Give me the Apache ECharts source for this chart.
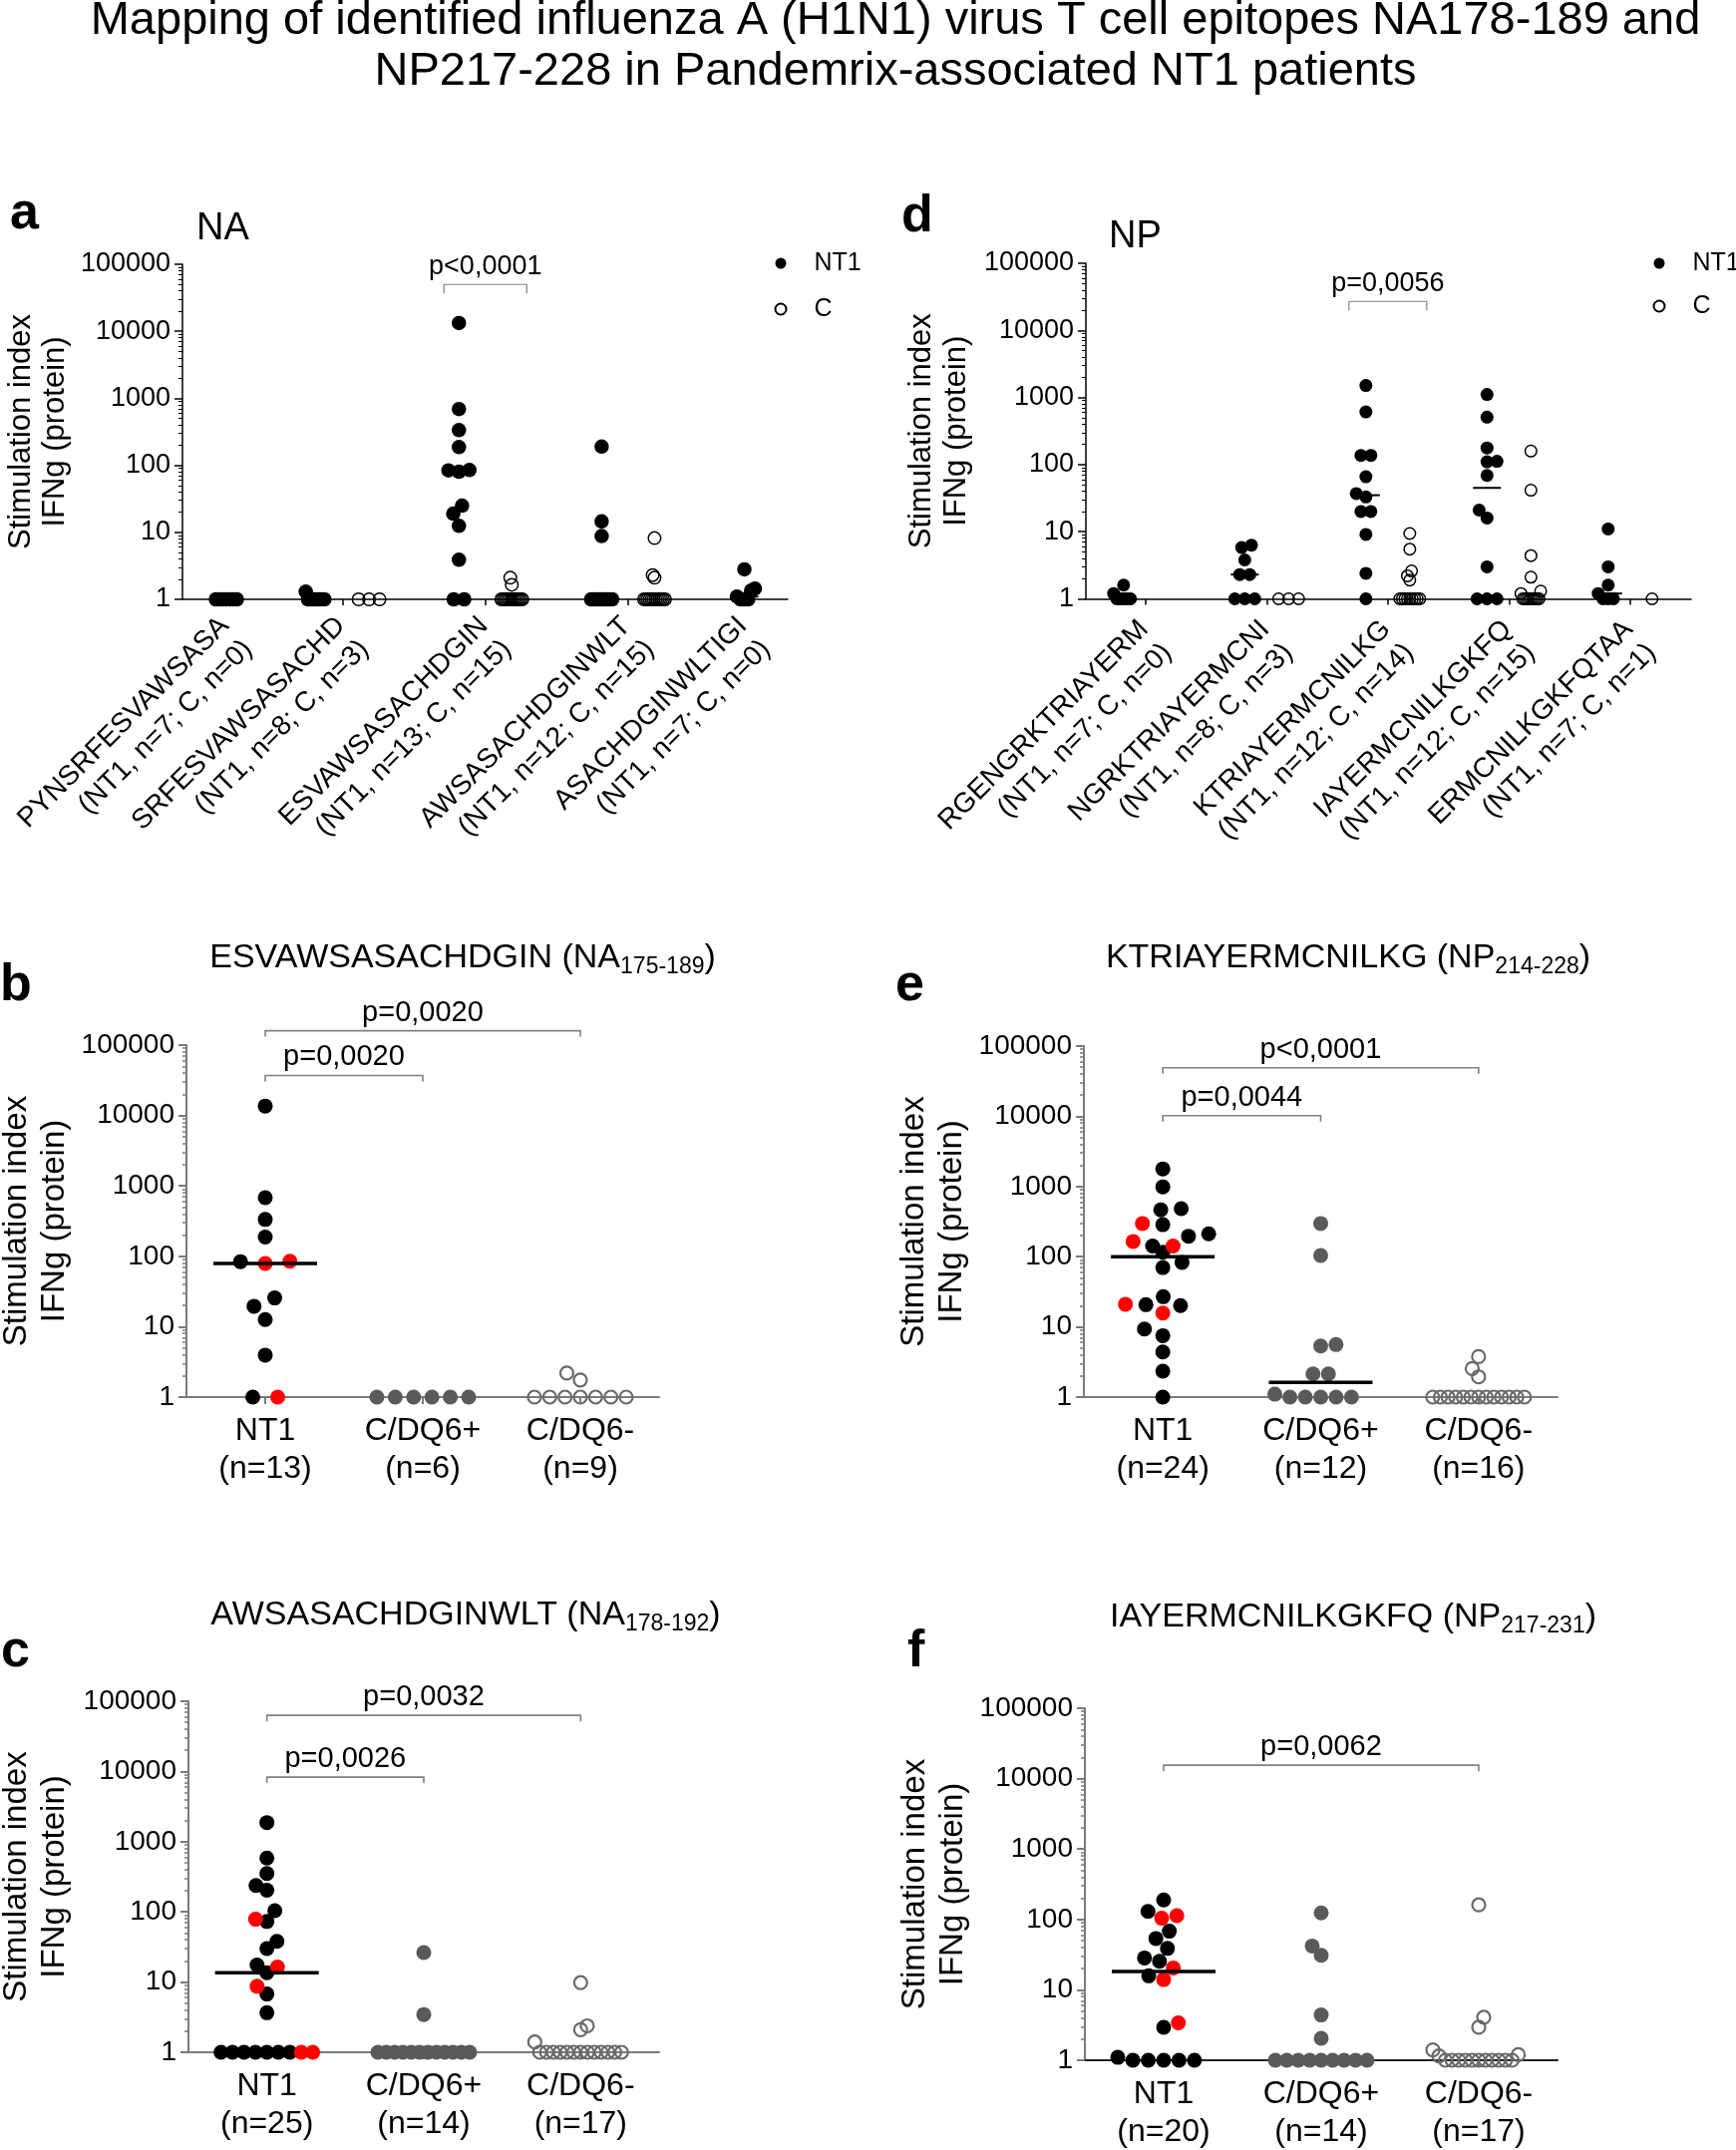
<!DOCTYPE html>
<html>
<head>
<meta charset="utf-8">
<script src="https://cdn.jsdelivr.net/npm/echarts@6/dist/echarts.min.js"></script>
<style>
html,body{margin:0;padding:0;background:#fff;}
#chart{width:1741px;height:2156px;}
</style>
</head>
<body>
<div id="chart"></div>
<script>
// ======================= DATA =======================
const figureTitle = [
  'Mapping of identified influenza A (H1N1) virus T cell epitopes NA178-189 and',
  'NP217-228 in Pandemrix-associated NT1 patients'
];
const yTitle = 'Stimulation index\nIFNg (protein)';
const yTickValues = [1, 10, 100, 1000, 10000, 100000];
const yMinorValues = [2,3,4,5,6,7,8,9,20,30,40,50,60,70,80,90,200,300,400,500,600,700,800,900,
  2000,3000,4000,5000,6000,7000,8000,9000,20000,30000,40000,50000,60000,70000,80000,90000];
const legendNames = ['NT1', 'C'];

// Panel a: NA peptides
const naPeptides = ['PYNSRFESVAWSASA', 'SRFESVAWSASACHD', 'ESVAWSASACHDGIN', 'AWSASACHDGINWLT', 'ASACHDGINWLTIGI'];
const naNT1 = [
  [1, 1, 1, 1, 1, 1, 1],
  [1.3, 1, 1, 1, 1, 1, 1, 1],
  [13300, 690, 335, 187, 84, 80, 85, 25, 19, 12.5, 3.9, 1, 1],
  [190, 14.6, 8.8, 1, 1, 1, 1, 1, 1, 1, 1, 1],
  [2.8, 1.45, 1.35, 1.1, 1, 1, 1]
];
const naC = [
  [],
  [1, 1, 1],
  [2.1, 1.65, 1, 1, 1, 1, 1, 1, 1, 1, 1, 1, 1, 1, 1],
  [8.2, 2.3, 2.1, 1, 1, 1, 1, 1, 1, 1, 1, 1, 1, 1, 1],
  []
];
const naBracket = [2, 50000, 'p<0,0001'];

// Panel d: NP peptides
const npPeptides = ['RGENGRKTRIAYERM', 'NGRKTRIAYERMCNI', 'KTRIAYERMCNILKG', 'IAYERMCNILKGKFQ', 'ERMCNILKGKFQTAA'];
const npNT1 = [
  [1.6, 1.2, 1, 1, 1, 1, 1],
  [6.3, 5.8, 3.8, 2.3, 2.3, 1, 1, 1],
  [1510, 610, 137, 137, 66, 37, 33, 20, 20, 9.1, 2.4, 1],
  [1110, 510, 177, 112, 110, 69, 21, 16, 3, 1, 1, 1],
  [11, 3, 1.6, 1.2, 1, 1, 1]
];
const npC = [
  [],
  [1, 1, 1],
  [9.4, 5.5, 2.6, 2.2, 1.9, 1, 1, 1, 1, 1, 1, 1, 1, 1],
  [159, 41.5, 4.4, 2.1, 1.3, 1.2, 1, 1, 1, 1, 1, 1, 1, 1, 1],
  [1]
];
const npBracket = [2, 27000, 'p=0,0056'];

// Sub-panels b, c, e, f
const subGroups = ['NT1', 'C/DQ6+', 'C/DQ6-'];

const bTitle = ['ESVAWSASACHDGIN', 'NA', '175-189'];
const bNT1 = [13600, 680, 334, 188, 84, 25.6, 19.5, 12.6, 3.95, 1];
const bNT1Red = [79, 85, 1];
const bDQ6pos = [1, 1, 1, 1, 1, 1];
const bDQ6neg = [2.2, 1.75, 1, 1, 1, 1, 1, 1, 1];
const bBrackets = [[0, 2, 160000, 'p=0,0020'], [0, 1, 37000, 'p=0,0020']];

const eTitle = ['KTRIAYERMCNILKG', 'NP', '214-228'];
const eNT1 = [1780, 988, 484, 466, 286, 212, 196, 142, 116, 83, 70, 26.9, 20.7, 20.1, 9.3, 7.5, 4.4, 2.34, 1];
const eNT1Red = [297, 165, 142, 21, 15.7];
const eDQ6pos = [297, 104, 5.6, 5.35, 2.14, 2.14, 1.1, 1, 1, 1, 1, 1];
const eDQ6neg = [3.77, 2.55, 1.94, 1, 1, 1, 1, 1, 1, 1, 1, 1, 1, 1, 1, 1];
const eBrackets = [[0, 2, 49000, 'p<0,0001'], [0, 1, 10200, 'p=0,0044']];

const cTitle = ['AWSASACHDGINWLT', 'NA', '178-192'];
const cNT1 = [1870, 584, 352, 237, 203, 104, 73, 38, 30, 17.5, 13.6, 6.75, 3.66, 1, 1, 1, 1, 1, 1, 1];
const cNT1Red = [78.5, 16.4, 8.7, 1, 1];
const cDQ6pos = [26.3, 3.45, 1, 1, 1, 1, 1, 1, 1, 1, 1, 1, 1, 1];
const cDQ6neg = [9.8, 2.38, 2.1, 1.4, 1, 1, 1, 1, 1, 1, 1, 1, 1, 1, 1, 1, 1];
const cBrackets = [[0, 2, 63000, 'p=0,0032'], [0, 1, 8300, 'p=0,0026']];

const fTitle = ['IAYERMCNILKGKFQ', 'NP', '217-231'];
const fNT1 = [189, 130, 68, 53.6, 38.8, 28.4, 25.5, 15.8, 2.94, 1.1, 1, 1, 1, 1, 1];
const fNT1Red = [113, 104, 20.5, 14, 3.4];
const fDQ6pos = [124, 42, 31, 4.4, 2.05, 1, 1, 1, 1, 1, 1, 1, 1, 1];
const fDQ6neg = [161, 4.07, 2.94, 1.4, 1.2, 1.15, 1, 1, 1, 1, 1, 1, 1, 1, 1, 1, 1];
const fBrackets = [[0, 2, 15500, 'p=0,0062']];

// ======================= LAYOUT / STYLE =======================
const FONT = "'Liberation Sans', Arial, Helvetica, sans-serif";
const BLACK = '#000000', RED = '#ff0000', GRAY_FILL = '#5a5a5a', GRAY_OPEN = '#6a6a6a';
const AXIS_GRAY = '#7a7a7a', BRACKET_GRAY = '#808080';

const L = {
  a: { grid: { left: 183, top: 265, width: 607, height: 336 }, xMin: -0.83, xMax: 10.62, groupGap: 0.7, keepEmpty: false,
       dot: 14.5, open: 12.5, openW: 1.5, stepMax: 11, maxHalf: 10.5, axisColor: BLACK, axisW: 1.5,
       labelShift: 10, labelMargin: 34, yLabel: 27, nameSize: 31, nameLH: 34, nameGap: 111, medHW: 14, medW: 2,
       brExt: 15, pSize: 27, legend: { left: 771.5, top: 244, gap: 16, pad: 23 } },
  d: { grid: { left: 1089, top: 264, width: 607, height: 336.5 }, xMin: -0.86, xMax: 12.93, groupGap: 0.76, keepEmpty: true,
       dot: 13, open: 11.5, openW: 1.5, stepMax: 10, maxHalf: 10, axisColor: BLACK, axisW: 1.5,
       labelShift: 10, labelMargin: 38, yLabel: 27, nameSize: 31, nameLH: 35, nameGap: 112, medHW: 14, medW: 2,
       brExt: 17, pSize: 27, legend: { left: 1652.5, top: 244, gap: 13, pad: 23 } },
  b: { grid: { left: 187, top: 1048, width: 474, height: 353 }, xAxisColor: AXIS_GRAY, nameGap: 113 },
  e: { grid: { left: 1087, top: 1049, width: 475, height: 352 }, xAxisColor: AXIS_GRAY, nameGap: 113 },
  c: { grid: { left: 189, top: 1706, width: 472, height: 352 }, xAxisColor: AXIS_GRAY, nameGap: 115 },
  f: { grid: { left: 1088, top: 1713, width: 474, height: 353 }, xAxisColor: '#222222', nameGap: 113 }
};
const SUB = { dot: 15, open: 13, openW: 2.2, stepMax: 25, maxHalf: 46, axisColor: AXIS_GRAY, axisW: 2,
  yLabel: 28, nameSize: 33, nameLH: 38, xLabel: 32, xLabelLH: 38, xLabelMargin: 15,
  medHW: 52, medW: 3.5, pSize: 29 };

// ======================= HELPERS =======================
const grids = [], xAxes = [], yAxes = [], series = [], legends = [], graphics = [];

function median(arr) {
  const s = arr.slice().sort((p, q) => p - q);
  const n = s.length;
  if (!n) return null;
  return n % 2 ? s[(n - 1) / 2] : (s[n / 2 - 1] + s[n / 2]) / 2;
}

// Beeswarm layout (GraphPad-like): offsets in px, computed only from values.
function swarm(values, decadePx, dotPx, stepMaxPx, maxHalfPx) {
  const n = values.length;
  if (!n) return [];
  const py = values.map(v => Math.log10(v) * decadePx);
  const order = values.map((_, i) => i).sort((i, j) => (values[i] - values[j]) || (i - j));
  const u = new Array(n).fill(0);
  const placed = [];
  let preferLeft = true;
  let k = 0;
  while (k < n) {
    let m = k;
    while (m + 1 < n && values[order[m + 1]] === values[order[k]]) m++;
    const cnt = m - k + 1;
    if (cnt > 1) {
      for (let t = 0; t < cnt; t++) { const i = order[k + t]; u[i] = t - (cnt - 1) / 2; placed.push(i); }
    } else {
      const i = order[k];
      const ivs = [];
      placed.forEach(j => {
        const dy = Math.abs(py[i] - py[j]);
        if (dy < dotPx) { const h = Math.sqrt(1 - (dy / dotPx) * (dy / dotPx)); ivs.push([u[j] - h, u[j] + h]); }
      });
      const isFree = c => ivs.every(([a, b]) => c <= a + 1e-6 || c >= b - 1e-6);
      const cands = [0];
      ivs.forEach(([a, b]) => cands.push(a, b));
      let best = null;
      cands.forEach(c => {
        if (!isFree(c)) return;
        if (best === null) { best = c; return; }
        const dc = Math.abs(c), db = Math.abs(best);
        if (dc < db - 1e-6) best = c;
        else if (Math.abs(dc - db) <= 1e-6 && (preferLeft ? c < best : c > best)) best = c;
      });
      if (Math.abs(best) > 1e-6) preferLeft = !preferLeft;
      u[i] = best; placed.push(i);
    }
    k = m + 1;
  }
  const maxAbs = Math.max.apply(null, u.map(Math.abs));
  const step = maxAbs > 1e-6 ? Math.min(stepMaxPx, maxHalfPx / maxAbs) : stepMaxPx;
  return u.map(x => x * step);
}

function nearestIndex(arr, v) {
  let bi = 0, bd = Infinity;
  arr.forEach((a, i) => { const d = Math.abs(a - v); if (d < bd) { bd = d; bi = i; } });
  return bi;
}

function addYAxes(gi, cfg, st) {
  yAxes.push({
    type: 'log', logBase: 10, gridIndex: gi, position: 'left', min: yTickValues[0], max: yTickValues[yTickValues.length - 1],
    axisLine: { show: true, onZero: false, lineStyle: { color: st.axisColor, width: st.axisW } },
    axisTick: { show: true, customValues: yTickValues, length: 8, lineStyle: { color: st.axisColor, width: st.axisW } },
    axisLabel: { show: true, customValues: yTickValues, formatter: v => String(Math.round(v)), fontSize: st.yLabel,
      fontFamily: FONT, color: BLACK, margin: 12 },
    splitLine: { show: false }, minorTick: { show: false },
    name: yTitle, nameLocation: 'middle', nameRotate: 90, nameGap: cfg.nameGap, nameMoveOverlap: false,
    nameTextStyle: { fontSize: st.nameSize, lineHeight: st.nameLH, fontFamily: FONT, color: BLACK }
  });
  yAxes.push({
    type: 'log', logBase: 10, gridIndex: gi, position: 'left', offset: 0, min: yTickValues[0], max: yTickValues[yTickValues.length - 1],
    axisLine: { show: false, onZero: false },
    axisTick: { show: true, customValues: yMinorValues, length: 4, lineStyle: { color: st.axisColor, width: Math.max(1, st.axisW - 0.5) } },
    axisLabel: { show: false }, splitLine: { show: false }
  });
  return yAxes.length - 2;
}

function scatter(name, xi, yi, data, size, color, border, borderW, z) {
  series.push({
    type: 'scatter', name, xAxisIndex: xi, yAxisIndex: yi, data, symbol: 'circle', symbolSize: size,
    clip: false, silent: true, z: z || 2, animation: false,
    itemStyle: { color, borderColor: border || color, borderWidth: borderW || 0, opacity: 1 },
    emphasis: { disabled: true }
  });
}

function medianSeries(xi, yi, data, hw, lw, z) {
  series.push({
    type: 'custom', xAxisIndex: xi, yAxisIndex: yi, data, clip: false, silent: true, z: z,
    renderItem: (params, api) => {
      const c = api.coord([api.value(0), api.value(1)]);
      return { type: 'line', shape: { x1: c[0] - hw, y1: c[1], x2: c[0] + hw, y2: c[1] },
        style: { stroke: BLACK, lineWidth: lw } };
    }
  });
}

function bracketSeries(xi, yi, items, ext, pSize, lw, tip) {
  const texts = items.map(b => b[3]);
  series.push({
    type: 'custom', xAxisIndex: xi, yAxisIndex: yi, clip: false, silent: true, z: 4,
    data: items.map(b => [b[0], b[1], b[2]]),
    renderItem: (params, api) => {
      const p1 = api.coord([api.value(0), api.value(2)]);
      const p2 = api.coord([api.value(1), api.value(2)]);
      const x1 = p1[0] - ext, x2 = p2[0] + ext, y = p1[1];
      return { type: 'group', children: [
        { type: 'polyline', shape: { points: [[x1, y + tip], [x1, y], [x2, y], [x2, y + tip]] },
          style: { stroke: BRACKET_GRAY, lineWidth: lw, fill: null } },
        { type: 'text', x: (x1 + x2) / 2, y: y - 18,
          style: { text: texts[params.dataIndex], fill: BLACK, fontSize: pSize, fontFamily: FONT,
            align: 'center', verticalAlign: 'middle', textAlign: 'center', textVerticalAlign: 'middle' } }
      ] };
    }
  });
}

function addText(x, y, text, size, opts) {
  opts = opts || {};
  graphics.push({ type: 'text', x, y, silent: true, style: Object.assign({
    text, fill: BLACK, fontSize: size, fontFamily: FONT, fontWeight: opts.bold ? 'bold' : 'normal',
    align: opts.align || 'left', verticalAlign: 'middle', textAlign: opts.align || 'left', textVerticalAlign: 'middle'
  }, opts.style || {}) });
}

// ---------- Panels a / d (peptide mapping) ----------
function buildGroupPanel(cfg, peptides, ntArr, cArr, bracket) {
  const gi = grids.length;
  grids.push(Object.assign({}, cfg.grid, { containLabel: false, outerBoundsMode: 'none' }));
  let pos = 0;
  const cols = [], ticks = [];
  peptides.forEach((p, g) => {
    if (g > 0) pos += cfg.groupGap;
    const xs = [];
    cols.push({ g, kind: 'NT1', x: pos, vals: ntArr[g] }); xs.push(pos); pos += 1;
    if (cArr[g].length || cfg.keepEmpty) { cols.push({ g, kind: 'C', x: pos, vals: cArr[g] }); xs.push(pos); pos += 1; }
    ticks.push(xs.reduce((s, v) => s + v, 0) / xs.length);
  });
  const ppu = cfg.grid.width / (cfg.xMax - cfg.xMin);
  const decadePx = cfg.grid.height / (yTickValues.length - 1);
  const labels = peptides.map((p, g) => p + '\n(NT1, n=' + ntArr[g].length + '; C, n=' + cArr[g].length + ')');
  const labelVals = ticks.map(t => t + cfg.labelShift / ppu);
  xAxes.push({
    type: 'value', gridIndex: gi, min: cfg.xMin, max: cfg.xMax,
    axisLine: { show: true, onZero: false, lineStyle: { color: cfg.axisColor, width: cfg.axisW } },
    axisTick: { show: true, customValues: ticks, length: 6, lineStyle: { color: cfg.axisColor, width: cfg.axisW } },
    axisLabel: { show: true, customValues: labelVals, rotate: 45, margin: cfg.labelMargin, fontSize: 28, lineHeight: 33,
      fontFamily: FONT, color: BLACK, formatter: v => labels[nearestIndex(labelVals, v)] },
    splitLine: { show: false }
  });
  const xi = xAxes.length - 1;
  const yi = addYAxes(gi, cfg, cfg);
  const ntData = [], cData = [], meds = [];
  cols.forEach(col => {
    const offs = swarm(col.vals, decadePx, cfg.dot, cfg.stepMax, cfg.maxHalf);
    const target = col.kind === 'NT1' ? ntData : cData;
    col.vals.forEach((v, i) => target.push([col.x + offs[i] / ppu, v]));
    const md = median(col.vals);
    if (md !== null && md > yTickValues[0]) meds.push([col.x, md]);
  });
  medianSeries(xi, yi, meds, cfg.medHW, cfg.medW, 1);
  scatter(legendNames[1], xi, yi, cData, cfg.open, 'rgba(255,255,255,0)', BLACK, cfg.openW, 2);
  scatter(legendNames[0], xi, yi, ntData, cfg.dot, BLACK, BLACK, 0, 3);
  const ntCol = cols.find(c => c.g === bracket[0] && c.kind === 'NT1');
  const cCol = cols.find(c => c.g === bracket[0] && c.kind === 'C');
  bracketSeries(xi, yi, [[ntCol.x, cCol.x, bracket[1], bracket[2]]], cfg.brExt, cfg.pSize, 1.2, 9);
  legends.push({
    show: true, data: legendNames.slice(), orient: 'vertical', left: cfg.legend.left, top: cfg.legend.top,
    itemWidth: 11, itemHeight: 11, itemGap: cfg.legend.gap, selectedMode: false, icon: 'circle',
    textStyle: { fontSize: 25, lineHeight: 30, fontFamily: FONT, color: BLACK, padding: [0, 0, 0, cfg.legend.pad] }
  });
}

// ---------- Panels b / c / e / f ----------
function buildSubPanel(cfg, ntBlack, ntRed, pos, neg, brackets, key) {
  const gi = grids.length;
  grids.push(Object.assign({}, cfg.grid, { containLabel: false, outerBoundsMode: 'none' }));
  const colX = subGroups.map((_, i) => i);
  const ntAll = ntBlack.concat(ntRed);
  const counts = [ntAll.length, pos.length, neg.length];
  const labels = subGroups.map((g, i) => g + '\n(n=' + counts[i] + ')');
  xAxes.push({
    type: 'value', gridIndex: gi, min: -0.5, max: subGroups.length - 0.5,
    axisLine: { show: true, onZero: false, lineStyle: { color: cfg.xAxisColor, width: SUB.axisW } },
    axisTick: { show: true, customValues: colX, length: 7, lineStyle: { color: SUB.axisColor, width: SUB.axisW } },
    axisLabel: { show: true, customValues: colX, margin: SUB.xLabelMargin, fontSize: SUB.xLabel, lineHeight: SUB.xLabelLH,
      fontFamily: FONT, color: BLACK, formatter: v => labels[nearestIndex(colX, v)] },
    splitLine: { show: false }
  });
  const xi = xAxes.length - 1;
  const yi = addYAxes(gi, cfg, SUB);
  const ppu = cfg.grid.width / subGroups.length;
  const decadePx = cfg.grid.height / (yTickValues.length - 1);
  const o0 = swarm(ntAll, decadePx, SUB.dot, SUB.stepMax, SUB.maxHalf);
  const o1 = swarm(pos, decadePx, SUB.dot, SUB.stepMax, SUB.maxHalf);
  const o2 = swarm(neg, decadePx, SUB.dot, SUB.stepMax, SUB.maxHalf);
  const blackData = ntBlack.map((v, i) => [colX[0] + o0[i] / ppu, v]);
  const redData = ntRed.map((v, i) => [colX[0] + o0[ntBlack.length + i] / ppu, v]);
  const posData = pos.map((v, i) => [colX[1] + o1[i] / ppu, v]);
  const negData = neg.map((v, i) => [colX[2] + o2[i] / ppu, v]);
  scatter(key + ' ' + subGroups[2], xi, yi, negData, SUB.open, 'rgba(255,255,255,0)', GRAY_OPEN, SUB.openW, 2);
  scatter(key + ' ' + subGroups[1], xi, yi, posData, SUB.dot, GRAY_FILL, GRAY_FILL, 0, 3);
  scatter(key + ' NT1', xi, yi, blackData, SUB.dot, BLACK, BLACK, 0, 3);
  scatter(key + ' NT1 red', xi, yi, redData, SUB.dot, RED, RED, 0, 3);
  const meds = [[colX[0], median(ntAll)], [colX[1], median(pos)], [colX[2], median(neg)]].filter(m => m[1] > yTickValues[0]);
  medianSeries(xi, yi, meds, SUB.medHW, SUB.medW, 4);
  bracketSeries(xi, yi, brackets, 0, SUB.pSize, 1.6, 6);
}

function subTitle(x, y, parts) {
  graphics.push({ type: 'text', x, y, silent: true, style: {
    text: '{m|' + parts[0] + ' (' + parts[1] + '}{s|' + parts[2] + '}{m|)}',
    rich: {
      m: { fontSize: 34, lineHeight: 40, fontFamily: FONT, fill: BLACK },
      s: { fontSize: 23, lineHeight: 20, fontFamily: FONT, fill: BLACK, verticalAlign: 'bottom' }
    },
    align: 'center', verticalAlign: 'middle', textAlign: 'center', textVerticalAlign: 'middle'
  } });
}

// ======================= BUILD =======================
buildGroupPanel(L.a, naPeptides, naNT1, naC, naBracket);
buildGroupPanel(L.d, npPeptides, npNT1, npC, npBracket);
buildSubPanel(L.b, bNT1, bNT1Red, bDQ6pos, bDQ6neg, bBrackets, 'b');
buildSubPanel(L.e, eNT1, eNT1Red, eDQ6pos, eDQ6neg, eBrackets, 'e');
buildSubPanel(L.c, cNT1, cNT1Red, cDQ6pos, cDQ6neg, cBrackets, 'c');
buildSubPanel(L.f, fNT1, fNT1Red, fDQ6pos, fDQ6neg, fBrackets, 'f');

// Figure title
addText(898, 21, figureTitle[0], 47, { align: 'center' });
addText(898, 72, figureTitle[1], 47, { align: 'center' });
// Panel letters
addText(10, 215, 'a', 52, { bold: true });
addText(904, 218, 'd', 52, { bold: true });
addText(0, 989, 'b', 52, { bold: true });
addText(898, 989, 'e', 52, { bold: true });
addText(1, 1657, 'c', 52, { bold: true });
addText(910, 1657, 'f', 52, { bold: true });
// Protein labels
addText(197, 230, 'NA', 38);
addText(1112, 238, 'NP', 38);
// Sub-panel titles
subTitle(464, 961, bTitle);
subTitle(1352, 961, eTitle);
subTitle(467, 1620, cTitle);
subTitle(1357, 1622, fTitle);

const chart = echarts.init(document.getElementById('chart'), null, { renderer: 'canvas', width: 1741, height: 2156 });
chart.setOption({
  backgroundColor: '#ffffff',
  animation: false,
  textStyle: { fontFamily: FONT },
  grid: grids,
  xAxis: xAxes,
  yAxis: yAxes,
  legend: legends,
  series: series,
  graphic: graphics
});
</script>
</body>
</html>
